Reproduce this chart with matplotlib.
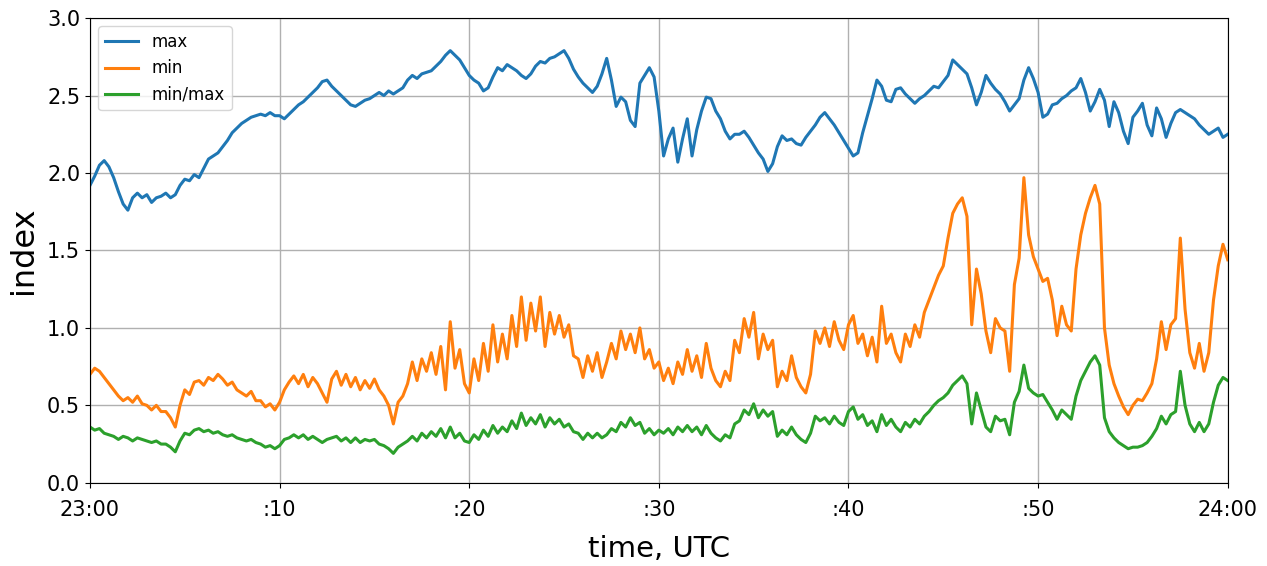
import numpy as np
import matplotlib
matplotlib.use("Agg")
import matplotlib.pyplot as plt

# one sample every 15 s, minutes after 23:00 UTC
minutes = np.linspace(0, 60, 241)

idx_max = [
    1.92, 1.98, 2.05, 2.08, 2.04, 1.97, 1.88, 1.80, 1.76, 1.84, 1.87, 1.84,
    1.86, 1.81, 1.84, 1.85, 1.87, 1.84, 1.86, 1.92, 1.96, 1.95, 1.99, 1.97,
    2.03, 2.09, 2.11, 2.13, 2.17, 2.21, 2.26, 2.29, 2.32, 2.34, 2.36, 2.37,
    2.38, 2.37, 2.39, 2.37, 2.37, 2.35, 2.38, 2.41, 2.44, 2.46, 2.49, 2.52,
    2.55, 2.59, 2.60, 2.56, 2.53, 2.50, 2.47, 2.44, 2.43, 2.45, 2.47, 2.48,
    2.50, 2.52, 2.50, 2.53, 2.51, 2.53, 2.55, 2.60, 2.63, 2.61, 2.64, 2.65,
    2.66, 2.69, 2.72, 2.76, 2.79, 2.76, 2.73, 2.68, 2.63, 2.60, 2.58, 2.53,
    2.55, 2.62, 2.68, 2.66, 2.70, 2.68, 2.66, 2.63, 2.61, 2.64, 2.69, 2.72,
    2.71, 2.74, 2.75, 2.77, 2.79, 2.74, 2.67, 2.62, 2.58, 2.55, 2.52, 2.56,
    2.64, 2.74, 2.60, 2.43, 2.49, 2.46, 2.34, 2.30, 2.58, 2.63, 2.68, 2.62,
    2.40, 2.11, 2.22, 2.29, 2.07, 2.22, 2.35, 2.11, 2.28, 2.40, 2.49, 2.48,
    2.40, 2.35, 2.27, 2.22, 2.25, 2.25, 2.27, 2.23, 2.18, 2.13, 2.09, 2.01,
    2.06, 2.17, 2.24, 2.21, 2.22, 2.19, 2.18, 2.23, 2.27, 2.31, 2.36, 2.39,
    2.35, 2.31, 2.26, 2.21, 2.16, 2.11, 2.13, 2.26, 2.37, 2.48, 2.60, 2.56,
    2.47, 2.46, 2.54, 2.55, 2.51, 2.48, 2.45, 2.48, 2.50, 2.53, 2.56, 2.55,
    2.59, 2.63, 2.73, 2.70, 2.67, 2.64, 2.55, 2.44, 2.52, 2.63, 2.58, 2.54,
    2.51, 2.46, 2.40, 2.44, 2.48, 2.60, 2.68, 2.61, 2.52, 2.36, 2.38, 2.44,
    2.45, 2.48, 2.50, 2.53, 2.55, 2.61, 2.52, 2.40, 2.46, 2.54, 2.47, 2.30,
    2.46, 2.39, 2.27, 2.19, 2.36, 2.40, 2.45, 2.31, 2.24, 2.42, 2.35, 2.23,
    2.32, 2.39, 2.41, 2.39, 2.37, 2.35, 2.31, 2.28, 2.25, 2.27, 2.29, 2.23,
    2.25,
]

idx_min = [
    0.70, 0.74, 0.72, 0.68, 0.64, 0.60, 0.56, 0.53, 0.55, 0.52, 0.56, 0.51,
    0.50, 0.47, 0.50, 0.46, 0.46, 0.42, 0.36, 0.50, 0.60, 0.57, 0.65, 0.66,
    0.63, 0.68, 0.66, 0.70, 0.67, 0.63, 0.65, 0.60, 0.58, 0.56, 0.59, 0.53,
    0.53, 0.49, 0.51, 0.47, 0.52, 0.60, 0.65, 0.69, 0.64, 0.70, 0.62, 0.68,
    0.64, 0.58, 0.52, 0.67, 0.72, 0.63, 0.70, 0.62, 0.68, 0.60, 0.66, 0.61,
    0.67, 0.60, 0.56, 0.50, 0.38, 0.52, 0.56, 0.64, 0.78, 0.66, 0.80, 0.72,
    0.84, 0.70, 0.88, 0.60, 1.04, 0.74, 0.86, 0.64, 0.58, 0.80, 0.66, 0.90,
    0.72, 1.02, 0.78, 0.96, 0.80, 1.08, 0.88, 1.20, 0.92, 1.16, 0.98, 1.20,
    0.88, 1.10, 0.96, 1.08, 0.94, 1.02, 0.82, 0.80, 0.68, 0.82, 0.72, 0.84,
    0.68, 0.78, 0.90, 0.80, 0.98, 0.86, 0.96, 0.84, 1.00, 0.80, 0.86, 0.74,
    0.78, 0.66, 0.74, 0.64, 0.78, 0.70, 0.86, 0.72, 0.82, 0.68, 0.90, 0.74,
    0.66, 0.62, 0.72, 0.66, 0.92, 0.84, 1.06, 0.94, 1.10, 0.80, 0.96, 0.86,
    0.92, 0.62, 0.72, 0.66, 0.82, 0.68, 0.62, 0.58, 0.70, 0.98, 0.90, 1.00,
    0.88, 1.04, 0.92, 0.86, 1.02, 1.08, 0.90, 0.96, 0.82, 0.94, 0.78, 1.14,
    0.90, 0.96, 0.84, 0.78, 0.96, 0.88, 1.02, 0.94, 1.10, 1.18, 1.26, 1.34,
    1.40, 1.58, 1.74, 1.80, 1.84, 1.72, 1.02, 1.38, 1.22, 0.98, 0.84, 1.06,
    1.00, 0.98, 0.72, 1.28, 1.45, 1.97, 1.60, 1.46, 1.38, 1.30, 1.32, 1.18,
    0.95, 1.14, 1.02, 0.98, 1.38, 1.60, 1.74, 1.84, 1.92, 1.80, 1.00, 0.76,
    0.64, 0.56, 0.49, 0.44, 0.50, 0.54, 0.53, 0.58, 0.64, 0.80, 1.04, 0.86,
    1.02, 1.06, 1.58, 1.12, 0.84, 0.74, 0.90, 0.72, 0.84, 1.18, 1.40, 1.54,
    1.44,
]

idx_ratio = [
    0.36, 0.34, 0.35, 0.32, 0.31, 0.30, 0.28, 0.30, 0.29, 0.27, 0.29, 0.28,
    0.27, 0.26, 0.27, 0.25, 0.25, 0.23, 0.20, 0.27, 0.32, 0.31, 0.34, 0.35,
    0.33, 0.34, 0.32, 0.33, 0.31, 0.30, 0.31, 0.29, 0.28, 0.27, 0.28, 0.26,
    0.25, 0.23, 0.24, 0.22, 0.24, 0.28, 0.29, 0.31, 0.29, 0.31, 0.28, 0.30,
    0.28, 0.26, 0.28, 0.29, 0.30, 0.27, 0.29, 0.26, 0.29, 0.26, 0.28, 0.27,
    0.28, 0.25, 0.24, 0.22, 0.19, 0.23, 0.25, 0.27, 0.30, 0.27, 0.32, 0.29,
    0.33, 0.30, 0.35, 0.29, 0.36, 0.29, 0.32, 0.27, 0.26, 0.31, 0.28, 0.34,
    0.30, 0.37, 0.32, 0.36, 0.33, 0.40, 0.35, 0.45, 0.37, 0.42, 0.38, 0.44,
    0.36, 0.42, 0.38, 0.41, 0.36, 0.38, 0.33, 0.32, 0.28, 0.32, 0.29, 0.32,
    0.29, 0.31, 0.35, 0.33, 0.39, 0.36, 0.42, 0.37, 0.39, 0.32, 0.35, 0.31,
    0.34, 0.32, 0.35, 0.31, 0.36, 0.33, 0.37, 0.33, 0.36, 0.31, 0.37, 0.32,
    0.29, 0.27, 0.31, 0.29, 0.38, 0.40, 0.47, 0.44, 0.51, 0.42, 0.47, 0.43,
    0.46, 0.30, 0.34, 0.31, 0.36, 0.31, 0.28, 0.26, 0.32, 0.43, 0.40, 0.42,
    0.38, 0.43, 0.39, 0.37, 0.46, 0.49, 0.41, 0.44, 0.37, 0.40, 0.33, 0.44,
    0.37, 0.41, 0.36, 0.33, 0.39, 0.36, 0.41, 0.38, 0.43, 0.46, 0.50, 0.53,
    0.55, 0.58, 0.63, 0.66, 0.69, 0.64, 0.38, 0.58, 0.47, 0.36, 0.33, 0.43,
    0.40, 0.41, 0.31, 0.52, 0.59, 0.76, 0.61, 0.58, 0.56, 0.57, 0.52, 0.47,
    0.41, 0.47, 0.44, 0.41, 0.56, 0.66, 0.72, 0.78, 0.82, 0.76, 0.42, 0.33,
    0.29, 0.26, 0.24, 0.22, 0.23, 0.23, 0.24, 0.26, 0.30, 0.35, 0.43, 0.38,
    0.44, 0.46, 0.72, 0.50, 0.38, 0.33, 0.39, 0.33, 0.38, 0.52, 0.63, 0.68,
    0.66,
]

tick_pos = [0, 10, 20, 30, 40, 50, 60]
tick_labels = ['23:00', ':10', ':20', ':30', ':40', ':50', '24:00']

fig = plt.figure(figsize=(12.67, 5.66), dpi=100)
ax = fig.add_axes([0.071, 0.147, 0.898, 0.821])

ax.plot(minutes, idx_max, color='#1f77b4', lw=2.2, label='max')
ax.plot(minutes, idx_min, color='#ff7f0e', lw=2.2, label='min')
ax.plot(minutes, idx_ratio, color='#2ca02c', lw=2.2, label='min/max')

ax.set_xlim(0, 60)
ax.set_ylim(0, 3.0)
ax.set_xticks(tick_pos)
ax.set_xticklabels(tick_labels)
ax.set_yticks(np.arange(0, 3.01, 0.5))
ax.tick_params(labelsize=15)
ax.tick_params(axis='x', pad=9)
ax.grid(True, color='#b0b0b0', lw=1.0)
ax.set_xlabel('time, UTC', fontsize=21, labelpad=11)
ax.set_ylabel('index', fontsize=23, labelpad=6)
ax.legend(loc='upper left', fontsize=12)

fig.savefig('out.png', dpi=100)
